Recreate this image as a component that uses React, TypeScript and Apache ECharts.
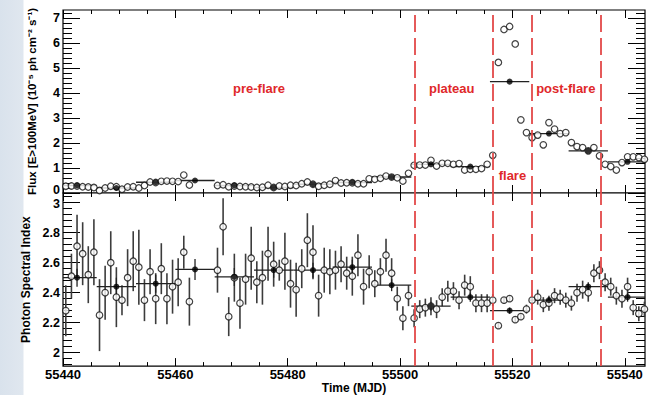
import React, { useEffect, useRef } from "react";
import * as echarts from "echarts";

// ---------- data ----------
const DAILY_MJD = [
  55440.5, 55441.5, 55442.5, 55443.5, 55444.5, 55445.5, 55446.5, 55447.5, 55448.5, 55449.5,
  55450.5, 55451.5, 55452.5, 55453.5, 55454.5, 55455.5, 55456.5, 55457.5, 55458.5, 55459.5,
  55460.5, 55461.5, 55462.5,
  55467.5, 55468.5, 55469.5, 55470.5, 55471.5, 55472.5, 55473.5, 55474.5, 55475.5, 55476.5,
  55477.5, 55478.5, 55479.5, 55480.5, 55481.5, 55482.5, 55483.5, 55484.5, 55485.5, 55486.5,
  55487.5, 55488.5, 55489.5, 55490.5, 55491.5, 55492.5, 55493.5, 55494.5, 55495.5, 55496.5,
  55497.5, 55498.5, 55499.5, 55500.5, 55501.5, 55502.5, 55503.5, 55504.5, 55505.5, 55506.5,
  55507.5, 55508.5, 55509.5, 55510.5, 55511.5, 55512.5, 55513.5, 55514.5, 55515.5, 55516.5,
  55517.5, 55518.5, 55519.5, 55520.5, 55521.5, 55522.5, 55523.5, 55524.5, 55525.5, 55526.5,
  55527.5, 55528.5, 55529.5, 55530.5, 55531.5, 55532.5, 55533.5, 55534.5, 55535.5, 55536.5,
  55537.5, 55538.5, 55539.5, 55540.5, 55541.5, 55542.5, 55543.5,
];

const DAILY_FLUX = [
  0.27, 0.28, 0.28, 0.25, 0.24, 0.22, 0.1, 0.2, 0.27, 0.25,
  0.15, 0.24, 0.25, 0.2, 0.3, 0.44, 0.42, 0.47, 0.48, 0.47,
  0.46, 0.72, 0.32,
  0.3, 0.33, 0.25, 0.28, 0.26, 0.25, 0.24, 0.22, 0.23, 0.31,
  0.22, 0.28, 0.26, 0.31, 0.3, 0.37, 0.44, 0.35, 0.27, 0.31,
  0.35, 0.5, 0.4, 0.41, 0.41, 0.37, 0.37, 0.57, 0.55, 0.59,
  0.68, 0.64, 0.61, 0.48, 0.79, 1.11, 1.12, 1.12, 1.31, 1.08,
  1.19, 1.19, 1.15, 1.18, 0.92, 0.95, 0.95, 0.98, 1.15, 1.51,
  5.23, 6.55, 6.67, 5.97, 2.93, 2.42, 2.22, 2.32, 1.93, 2.82,
  2.56, 2.38, 2.42, 2.02, 1.86, 1.82, 1.69, 1.82, 1.49, 1.15,
  1.06, 0.92, 1.22, 1.45, 1.45, 1.42, 1.35,
];

const DAILY_INDEX = [
  2.28, 2.51, 2.71, 2.66, 2.52, 2.67, 2.25, 2.4, 2.6, 2.37,
  2.35, 2.5, 2.61, 2.57, 2.35, 2.54, 2.36, 2.56, 2.36, 2.44,
  2.47, 2.67, 2.34,
  2.55, 2.84, 2.24, 2.5, 2.33, 2.49, 2.63, 2.47, 2.5, 2.66,
  2.59, 2.55, 2.61, 2.46, 2.42, 2.56, 2.75, 2.67, 2.38, 2.55,
  2.54, 2.55, 2.59, 2.53, 2.51, 2.65, 2.44, 2.54, 2.46, 2.54,
  2.65, 2.53, 2.36, 2.23, 2.38, 2.23, 2.29, 2.3, 2.31, 2.29,
  2.37, 2.41, 2.41, 2.35, 2.45, 2.44, 2.33, 2.33, 2.33, 2.35,
  2.18, 2.35, 2.36, 2.22, 2.24, 2.29, 2.35, 2.37, 2.32, 2.33,
  2.38, 2.37, 2.35, 2.33, 2.4, 2.42, 2.4, 2.53, 2.55, 2.47,
  2.44, 2.38, 2.36, 2.44, 2.3, 2.26, 2.29,
];

const DAILY_INDEX_ERR = [
  0.17, 0.15, 0.21, 0.21, 0.19, 0.22, 0.24, 0.18, 0.21, 0.2,
  0.1, 0.19, 0.2, 0.25, 0.14, 0.15, 0.17, 0.17, 0.17, 0.18,
  0.16, 0.11, 0.16,
  0.15, 0.19, 0.13, 0.16, 0.17, 0.17, 0.21, 0.14, 0.18, 0.18,
  0.15, 0.07, 0.19, 0.16, 0.18, 0.13, 0.18, 0.18, 0.14, 0.15,
  0.15, 0.13, 0.12, 0.11, 0.13, 0.14, 0.12, 0.11, 0.09, 0.09,
  0.11, 0.1, 0.08, 0.08, 0.07, 0.06, 0.06, 0.06, 0.06, 0.06,
  0.06, 0.07, 0.06, 0.06, 0.07, 0.07, 0.06, 0.06, 0.06, 0.04,
  0.02, 0.02, 0.02, 0.02, 0.02, 0.03, 0.03, 0.05, 0.05, 0.05,
  0.05, 0.05, 0.05, 0.05, 0.06, 0.06, 0.06, 0.06, 0.06, 0.06,
  0.06, 0.06, 0.06, 0.06, 0.05, 0.05, 0.05,
];

const WEEKLY_MJD = [
  55442.5, 55449.5, 55456.5, 55463.5, 55470.5, 55477.5, 55484.5, 55491.5,
  55498.5, 55505.5, 55512.5, 55519.5, 55526.5, 55533.5, 55540.5,
];
const WEEKLY_FLUX = [0.3, 0.2, 0.43, 0.5, 0.3, 0.22, 0.35, 0.42, 0.64, 1.15, 1.06, 4.46, 2.38, 1.69, 1.25];
const WEEKLY_INDEX = [2.5, 2.44, 2.46, 2.555, 2.505, 2.55, 2.55, 2.57, 2.45, 2.31, 2.37, 2.28, 2.35, 2.44, 2.37];
const WEEKLY_INDEX_ERR = [0.06, 0.06, 0.06, 0.07, 0.06, 0.05, 0.05, 0.05, 0.04, 0.03, 0.03, 0.02, 0.02, 0.03, 0.03];
const WEEK_HALF_WIDTH = 3.5;

const PERIOD_EDGES = [55502.6, 55516.5, 55523.5, 55535.7];
const REGION_LABELS = [
  { name: "pre-flare", mjd: 55474.9, flux: 4.18 },
  { name: "plateau", mjd: 55509.2, flux: 4.18 },
  { name: "post-flare", mjd: 55529.5, flux: 4.18 },
  { name: "flare", mjd: 55520.0, flux: 0.7 },
];

// axis ranges and ticks
const X_MIN = 55440;
const X_MAX = 55543.6;
const X_MAJOR = [55440, 55460, 55480, 55500, 55520, 55540];
const X_MINOR_STEP = 5;
const FLUX_MIN = 0;
const FLUX_MAX = 7.33;
const FLUX_MAJOR = [0, 1, 2, 3, 4, 5, 6, 7];
const FLUX_MINOR_STEP = 0.2;
const INDEX_MIN = 1.91;
const INDEX_MAX = 3.065;
const INDEX_MAJOR = [2, 2.2, 2.4, 2.6, 2.8, 3];
const INDEX_MINOR_STEP = 0.04;

function minorTicks(lo: number, hi: number, step: number, major: number[]) {
  const out: number[] = [];
  const start = Math.ceil((lo - 1e-9) / step);
  for (let k = start; k * step <= hi + 1e-9; k++) {
    const v = Math.round(k * step * 1000) / 1000;
    if (!major.some((m) => Math.abs(m - v) < 1e-6)) out.push(v);
  }
  return out;
}

const FONT = "'Liberation Sans', Arial, Helvetica, sans-serif";
const RED = "#e24848";

function makeXAxes(g: number, withLabels: boolean) {
  const minor = minorTicks(X_MIN, X_MAX, X_MINOR_STEP, X_MAJOR);
  const base: any = {
    type: "value",
    gridIndex: g,
    min: X_MIN,
    max: X_MAX,
    splitLine: { show: false },
    axisLine: { show: false, onZero: false },
    axisLabel: { show: false },
  };
  const tick = (len: number, vals: number[]) => ({
    show: true,
    inside: true,
    length: len,
    customValues: vals,
    lineStyle: { color: "#000", width: 1 },
  });
  const major: any = { ...base, position: "bottom", axisTick: tick(8, X_MAJOR) };
  if (withLabels) {
    major.axisLabel = {
      show: true,
      customValues: X_MAJOR,
      formatter: (v: number) => String(v),
      color: "#000",
      fontFamily: FONT,
      fontWeight: "bold",
      fontSize: 13,
      margin: 2,
    };
    major.name = "Time (MJD)";
    major.nameLocation = "middle";
    major.nameGap = 11;
    major.nameTextStyle = { color: "#000", fontFamily: FONT, fontWeight: "bold", fontSize: 12 };
  }
  return [
    major,
    { ...base, position: "bottom", axisTick: tick(4, minor) },
    { ...base, position: "top", axisTick: tick(8, X_MAJOR) },
    { ...base, position: "top", axisTick: tick(4, minor) },
  ];
}

const LABEL_FONT = { color: "#000", fontFamily: FONT, fontWeight: "bold" as const, fontSize: 12.5, lineHeight: 10 };

function makeYAxes(
  g: number,
  lo: number,
  hi: number,
  majorVals: number[],
  step: number,
  name: string,
  nameGap: number,
  nameSize: number,
  formatter: (v: number) => string
) {
  const minor = minorTicks(lo, hi, step, majorVals);
  const base: any = {
    type: "value",
    gridIndex: g,
    min: lo,
    max: hi,
    splitLine: { show: false },
    axisLine: { show: false, onZero: false },
    axisLabel: { show: false },
  };
  const tick = (len: number, vals: number[]) => ({
    show: true,
    inside: true,
    length: len,
    customValues: vals,
    lineStyle: { color: "#000", width: 1 },
  });
  return [
    {
      ...base,
      position: "left",
      axisTick: tick(17, majorVals),
      axisLabel: {
        show: true,
        customValues: majorVals,
        formatter,
        ...LABEL_FONT,
        margin: 3,
        rich: {
          lo: { ...LABEL_FONT, padding: [0, 0, 6, 0] },
          hi: { ...LABEL_FONT, padding: [3, 0, 0, 0] },
        },
      },
      name,
      nameLocation: "middle",
      nameGap,
      nameRotate: 90,
      nameTextStyle: { color: "#000", fontFamily: FONT, fontWeight: "bold", fontSize: nameSize },
    },
    { ...base, position: "left", axisTick: tick(9, minor) },
    { ...base, position: "right", axisTick: tick(17, majorVals) },
    { ...base, position: "right", axisTick: tick(9, minor) },
  ];
}

const vErrRender = (color: string, width: number) => (params: any, api: any) => {
  const x = api.value(0);
  const y = api.value(1);
  const e = api.value(2);
  if (!e) return null;
  const p1 = api.coord([x, y + e]);
  const p2 = api.coord([x, y - e]);
  return {
    type: "line",
    shape: { x1: p1[0], y1: p1[1], x2: p2[0], y2: p2[1] },
    style: { stroke: color, lineWidth: width },
  };
};

const weeklyRender = (params: any, api: any) => {
  const x = api.value(0);
  const y = api.value(1);
  const e = api.value(2);
  const cs = params.coordSys;
  const l = api.coord([x - WEEK_HALF_WIDTH, y]);
  const r = api.coord([x + WEEK_HALF_WIDTH, y]);
  const x1 = Math.max(l[0], cs.x);
  const x2 = Math.min(r[0], cs.x + cs.width);
  const children: any[] = [
    { type: "line", shape: { x1, y1: l[1], x2, y2: l[1] }, style: { stroke: "#222", lineWidth: 1.3 } },
  ];
  if (e) {
    const t = api.coord([x, y + e]);
    const b = api.coord([x, y - e]);
    children.push({ type: "line", shape: { x1: t[0], y1: t[1], x2: b[0], y2: b[1] }, style: { stroke: "#222", lineWidth: 1.3 } });
  }
  return { type: "group", children };
};

function edgeMarkLine() {
  return {
    silent: true,
    symbol: ["none", "none"],
    label: { show: false },
    lineStyle: { color: RED, width: 2, type: [17, 6], opacity: 0.9 },
    data: PERIOD_EDGES.map((v) => ({ xAxis: v })),
  };
}

export default function App() {
  const ref = useRef<HTMLDivElement>(null);

  useEffect(() => {
    if (!ref.current) return;
    const chart = echarts.init(ref.current, null, { renderer: "svg" });

    const openCircle = {
      color: "#fff",
      borderColor: "#111",
      borderWidth: 1.2,
    };

    const option: any = {
      animation: false,
      backgroundColor: "transparent",
      grid: [
        { left: 63, right: 11, top: 10, height: 183, show: true, borderColor: "#000", borderWidth: 1.2, backgroundColor: "#fff" },
        { left: 63, right: 11, top: 193, height: 179, show: true, borderColor: "#000", borderWidth: 1.2, backgroundColor: "#fff" },
      ],
      xAxis: [...makeXAxes(0, false), ...makeXAxes(1, true)],
      yAxis: [
        ...makeYAxes(0, FLUX_MIN, FLUX_MAX, FLUX_MAJOR, FLUX_MINOR_STEP, "Flux [E>100MeV] (10⁻⁵ ph cm⁻² s⁻¹)", 25, 11.5,
          (v: number) => (v === 0 ? "{lo|0}" : String(v))),
        ...makeYAxes(1, INDEX_MIN, INDEX_MAX, INDEX_MAJOR, INDEX_MINOR_STEP, "Photon Spectral Index", 27, 12,
          (v: number) => (v === 3 ? "{hi|3}" : String(v))),
      ],
      series: [
        // ---- top panel ----
        {
          type: "custom",
          xAxisIndex: 0,
          yAxisIndex: 0,
          z: 2,
          silent: true,
          renderItem: weeklyRender,
          data: WEEKLY_MJD.map((m, i) => [m, WEEKLY_FLUX[i], 0]),
        },
        {
          type: "scatter",
          xAxisIndex: 0,
          yAxisIndex: 0,
          z: 3,
          silent: true,
          symbol: "circle",
          symbolSize: 6.5,
          itemStyle: openCircle,
          data: DAILY_MJD.map((m, i) => [m, DAILY_FLUX[i]]),
        },
        {
          type: "scatter",
          xAxisIndex: 0,
          yAxisIndex: 0,
          z: 4,
          silent: true,
          symbol: "circle",
          symbolSize: 6,
          itemStyle: { color: "#000" },
          data: WEEKLY_MJD.map((m, i) => [m, WEEKLY_FLUX[i]]),
        },
        {
          type: "line",
          xAxisIndex: 0,
          yAxisIndex: 0,
          z: 10,
          silent: true,
          data: [],
          markLine: edgeMarkLine(),
          markPoint: {
            silent: true,
            symbol: "rect",
            symbolSize: 1,
            itemStyle: { color: "transparent" },
            label: {
              show: true,
              position: "inside",
              formatter: "{b}",
              color: "#e0282a",
              fontFamily: FONT,
              fontWeight: "bold",
              fontSize: 13,
            },
            data: REGION_LABELS.map((r) => ({ name: r.name, coord: [r.mjd, r.flux] })),
          },
        },
        // ---- bottom panel ----
        {
          type: "custom",
          xAxisIndex: 4,
          yAxisIndex: 4,
          z: 1,
          silent: true,
          renderItem: vErrRender("#3c3c3c", 1.6),
          data: DAILY_MJD.map((m, i) => [m, DAILY_INDEX[i], DAILY_INDEX_ERR[i]]),
        },
        {
          type: "custom",
          xAxisIndex: 4,
          yAxisIndex: 4,
          z: 2,
          silent: true,
          renderItem: weeklyRender,
          data: WEEKLY_MJD.map((m, i) => [m, WEEKLY_INDEX[i], WEEKLY_INDEX_ERR[i]]),
        },
        {
          type: "scatter",
          xAxisIndex: 4,
          yAxisIndex: 4,
          z: 3,
          silent: true,
          symbol: "circle",
          symbolSize: 6.5,
          itemStyle: openCircle,
          data: DAILY_MJD.map((m, i) => [m, DAILY_INDEX[i]]),
        },
        {
          type: "scatter",
          xAxisIndex: 4,
          yAxisIndex: 4,
          z: 4,
          silent: true,
          symbol: "circle",
          symbolSize: 6,
          itemStyle: { color: "#000" },
          data: WEEKLY_MJD.map((m, i) => [m, WEEKLY_INDEX[i]]),
        },
        {
          type: "line",
          xAxisIndex: 4,
          yAxisIndex: 4,
          z: 10,
          silent: true,
          data: [],
          markLine: edgeMarkLine(),
        },
      ],
    };

    chart.setOption(option);
    return () => chart.dispose();
  }, []);

  return (
    <div
      style={{
        position: "fixed",
        left: 0,
        top: 0,
        width: 656,
        height: 395,
        background: "linear-gradient(90deg, #d9e2ec 0px, #e0e7ef 23px, #ffffff 24px)",
      }}
    >
      <div ref={ref} style={{ width: 656, height: 395 }} />
    </div>
  );
}
